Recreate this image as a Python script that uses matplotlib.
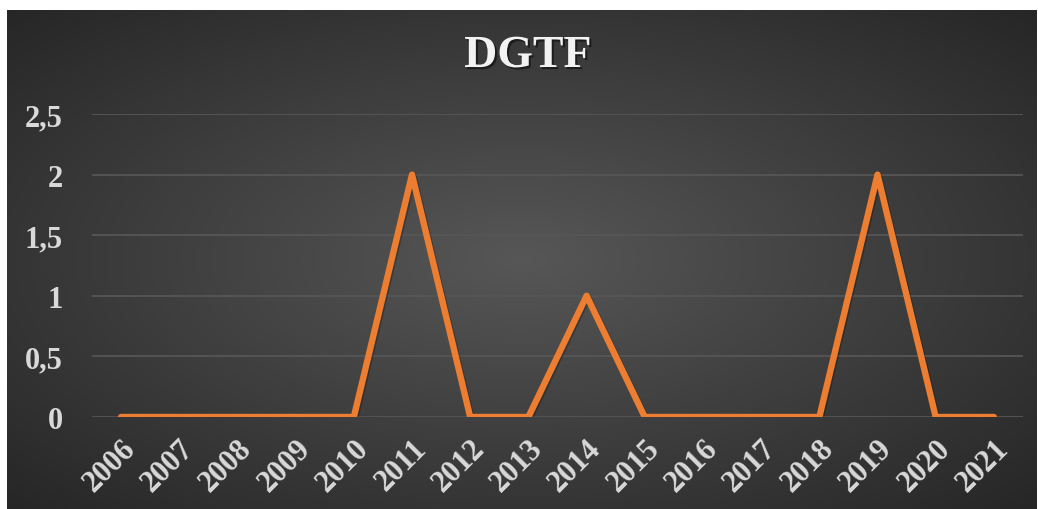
import numpy as np
import matplotlib.pyplot as plt
import matplotlib.patheffects as pe

years = ['2006', '2007', '2008', '2009', '2010', '2011', '2012', '2013',
         '2014', '2015', '2016', '2017', '2018', '2019', '2020', '2021']
dgtf = [0, 0, 0, 0, 0, 2, 0, 0, 1, 0, 0, 0, 0, 2, 0, 0]
yticks = [0, 0.5, 1, 1.5, 2, 2.5]
ytick_labels = ['0', '0,5', '1', '1,5', '2', '2,5']

plt.rcParams['font.family'] = ['Liberation Serif', 'DejaVu Serif']

W, H = 1038, 510
fig = plt.figure(figsize=(W / 100, H / 100), dpi=100)
fig.patch.set_facecolor('white')

# dark radial gradient background
bg = fig.add_axes([7 / W, 0, (1037 - 7) / W, (H - 11) / H])
bg.axis('off')
gx = np.linspace(-1, 1, 400)
gy = np.linspace(-1, 1, 200)
GX, GY = np.meshgrid(gx, gy)
r = np.sqrt(GX**2 + GY**2) / np.sqrt(2)
shade = 0.34 - 0.19 * r
img = np.dstack([shade, shade, shade])
bg.imshow(img, aspect='auto', extent=[0, 1, 0, 1], interpolation='bilinear')
bg.set_xlim(0, 1)
bg.set_ylim(0, 1)

ax = fig.add_axes([92 / W, (H - 418) / H, (1023 - 92) / W, (418 - 115) / H])
ax.patch.set_alpha(0)
x = np.arange(len(years))
ax.plot(x, dgtf, color='#ED7D31', lw=4.6, solid_joinstyle='round',
        solid_capstyle='round', zorder=3,
        path_effects=[pe.SimpleLineShadow(offset=(1, -1), shadow_color='black', alpha=0.25),
                      pe.Normal()])
ax.set_xlim(-0.5, len(years) - 0.5)
ax.set_ylim(0, 2.5)
ax.set_yticks(yticks)
ax.set_yticklabels(ytick_labels)
ax.set_xticks(x)
ax.set_xticklabels(years, rotation=45, ha='right', va='top', rotation_mode='anchor')
ax.grid(axis='y', color='#565656', lw=1.3)
ax.set_axisbelow(True)
for s in ax.spines.values():
    s.set_visible(False)
ax.tick_params(axis='y', length=0, pad=21, labelsize=22, labelcolor='#d9d9d9')
ax.tick_params(axis='x', length=0, pad=12, labelsize=22, labelcolor='#d9d9d9')
for lab in ax.get_xticklabels() + ax.get_yticklabels():
    lab.set_fontweight('bold')

fig.text(528 / W, (H - 57) / H, 'DGTF', ha='center', va='center', fontsize=33,
         fontweight='bold', color='#f2f2f2',
         path_effects=[pe.withSimplePatchShadow(offset=(1.5, -1.5), shadow_rgbFace='black', alpha=0.5)])

fig.savefig('out.png', dpi=100, facecolor=fig.get_facecolor())
